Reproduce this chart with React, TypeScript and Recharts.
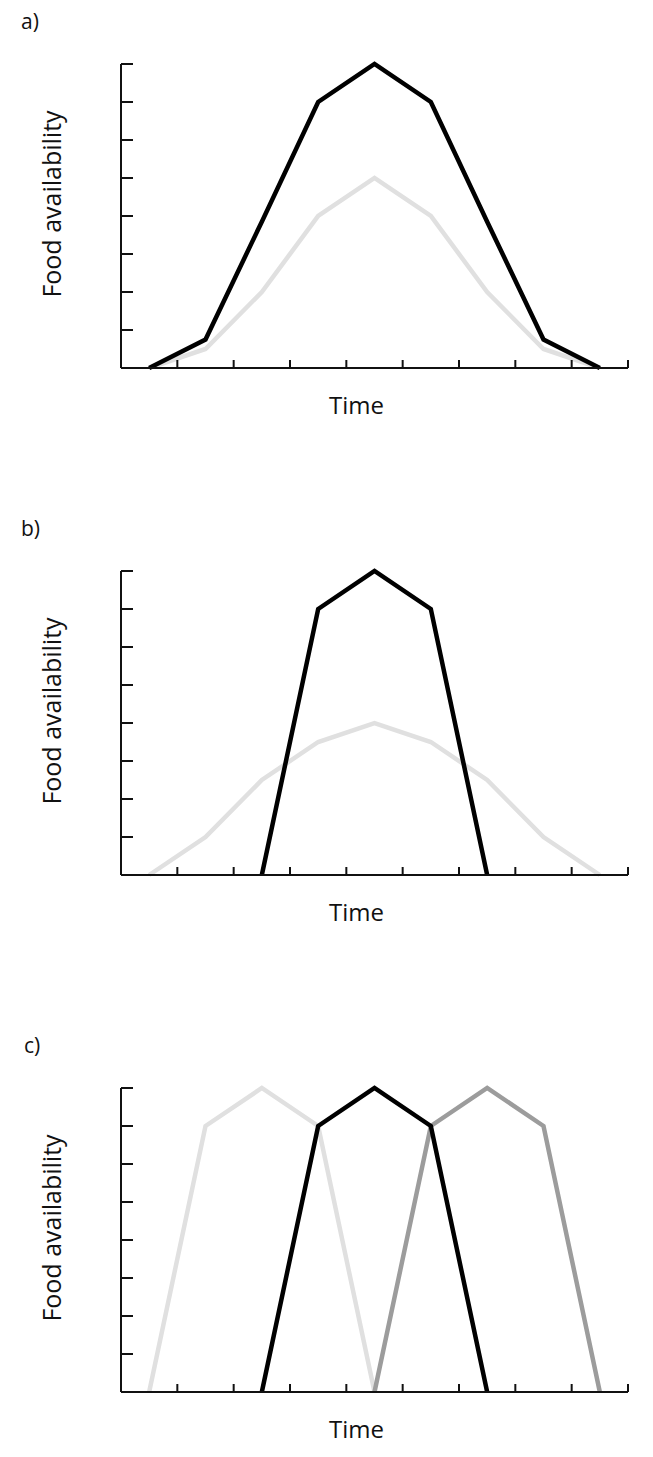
import { LineChart, Line, XAxis, YAxis, Label } from "recharts"

// time steps (bands) and axis ticks
const TIME = [1, 2, 3, 4, 5, 6, 7, 8, 9]
const X_TICKS = [0.5, 1.5, 2.5, 3.5, 4.5, 5.5, 6.5, 7.5, 8.5, 9.5]
const Y_TICKS = [0, 1, 2, 3, 4, 5, 6, 7, 8]

// a) same timing, different amplitude
const A_LOW = [0, 0.5, 2, 4, 5, 4, 2, 0.5, 0]
const A_HIGH = [0, 0.75, 3.85, 7, 8, 7, 3.85, 0.75, 0]

// b) broad vs. narrow peak
const B_BROAD = [0, 1, 2.5, 3.5, 4, 3.5, 2.5, 1, 0]
const B_NARROW = [null, null, 0, 7, 8, 7, 0, null, null]

// c) shifted peaks
const C_EARLY = [0, 7, 8, 7, 0, null, null, null, null]
const C_MID = [null, null, 0, 7, 8, 7, 0, null, null]
const C_LATE = [null, null, null, null, 0, 7, 8, 7, 0]

const LIGHT = "#e0e0e0"
const MID = "#9c9c9c"
const DARK = "#000000"
const AXIS = "#111111"
const FONT = "'Open Sans', sans-serif"

type Series = { values: (number | null)[]; color: string }

function Panel({ top, tag, tagLeft, series }: { top: number; tag: string; tagLeft: number; series: Series[] }) {
  const data = TIME.map((t, i) => {
    const row: Record<string, number | null> = { t }
    series.forEach((s, k) => { row["s" + k] = s.values[i] })
    return row
  })

  return (
    <div style={{ position: "absolute", left: 0, top, width: 653, height: 470 }}>
      <div style={{ position: "absolute", left: tagLeft, top: 7, fontFamily: FONT, fontSize: 21, color: "#111" }}>{tag}</div>
      <LineChart width={653} height={470} data={data} margin={{ top: 64, right: 25, bottom: 102, left: 121 }}>
        <XAxis dataKey="t" type="number" domain={[0.5, 9.5]} ticks={X_TICKS} height={1} mirror tickSize={8}
          tickFormatter={() => ""} stroke={AXIS} strokeWidth={2} axisLine={{ stroke: AXIS, strokeWidth: 2 }}>
          <Label value="Time" position="bottom" offset={29} dx={-18}
            style={{ fontFamily: FONT, fontSize: 24, fill: "#111" }} />
        </XAxis>
        <YAxis type="number" domain={[0, 8]} ticks={Y_TICKS} width={1} mirror tickSize={12}
          tickFormatter={() => ""} stroke={AXIS} strokeWidth={2} axisLine={{ stroke: AXIS, strokeWidth: 2 }}>
          <Label value="Food availability" angle={-90} position="center" dx={-69} dy={-12}
            style={{ fontFamily: FONT, fontSize: 25, fill: "#111", textAnchor: "middle" }} />
        </YAxis>
        {series.map((s, k) => (
          <Line key={k} type="linear" dataKey={"s" + k} stroke={s.color} strokeWidth={4.5}
            dot={false} activeDot={false} isAnimationActive={false} connectNulls={false} />
        ))}
      </LineChart>
    </div>
  )
}

export default function App() {
  return (
    <div style={{ position: "absolute", left: 0, top: 0, width: 653, height: 1457, background: "#fff", overflow: "hidden" }}>
      <Panel top={0} tag="a)" tagLeft={21} series={[{ values: A_LOW, color: LIGHT }, { values: A_HIGH, color: DARK }]} />
      <Panel top={507} tag="b)" tagLeft={21} series={[{ values: B_BROAD, color: LIGHT }, { values: B_NARROW, color: DARK }]} />
      <Panel top={1024} tag="c)" tagLeft={24} series={[
        { values: C_EARLY, color: LIGHT },
        { values: C_LATE, color: MID },
        { values: C_MID, color: DARK },
      ]} />
    </div>
  )
}
